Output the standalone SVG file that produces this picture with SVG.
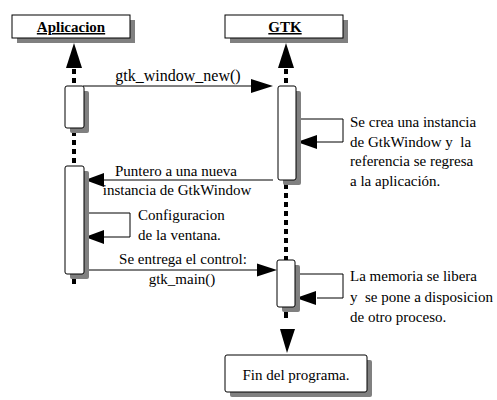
<svg xmlns="http://www.w3.org/2000/svg" width="497" height="400" viewBox="0 0 497 400">
<style>
text{font-size:15px;fill:#000}
.hd{font-weight:bold;text-decoration:underline;text-anchor:middle}
.c{text-anchor:middle}
.box{fill:#fff;stroke:#000;stroke-width:1}
.sh{fill:#808080}
.life{stroke:#000;stroke-width:4;stroke-dasharray:5,4;fill:none}
.msg{stroke:#000;stroke-width:1;fill:none}
.ah{fill:#000}
</style>
<rect width="497" height="400" fill="#fff"/>
<g id="connectors" font-family="'Liberation Serif', serif">
<line class="life" x1="74" y1="69" x2="74" y2="86"/>
<line class="life" x1="74" y1="131" x2="74" y2="166"/>
<line class="life" x1="74" y1="278" x2="74" y2="284" style="stroke-dasharray:none"/>
<line class="life" x1="286" y1="69" x2="286" y2="86"/>
<line class="life" x1="286" y1="184" x2="286" y2="260"/>
<line class="life" x1="286" y1="311" x2="286" y2="318" style="stroke-dasharray:none"/>
<polygon class="ah" points="74,43 66,68 82,68"/>
<polygon class="ah" points="286,43 278,68 294,68"/>
<polygon class="ah" points="287,353 280,329 295,329"/>
<line class="msg" x1="83" y1="86" x2="253" y2="86"/>
<polygon class="ah" points="273,86 251,79 251,93"/>
<line class="msg" x1="273" y1="180" x2="103" y2="180"/>
<polygon class="ah" points="85,180 104,173 104,187"/>
<path class="msg" d="M296,119 H343 V142 H317"/>
<polygon class="ah" points="297,142 317,135 317,149"/>
<path class="msg" d="M83,213 H130 V237 H103"/>
<polygon class="ah" points="85,237 104,230 104,244"/>
<line class="msg" x1="83" y1="270" x2="258" y2="270"/>
<polygon class="ah" points="277,270 257,263.5 257,276.5"/>
<path class="msg" d="M295,274 H343 V298 H317"/>
<polygon class="ah" points="296,298 316,291 316,305"/>
<text class="c" x="178" y="81" font-family="'Liberation Serif', serif" style="font-size:16px">gtk_window_new()</text>
<text class="c" x="176" y="176" font-family="'Liberation Serif', serif">Puntero a una nueva</text>
<text class="c" x="177" y="195" font-family="'Liberation Serif', serif">instancia de GtkWindow</text>
<text x="350" y="127" font-family="'Liberation Serif', serif">Se crea una instancia</text>
<text x="350" y="146.5" font-family="'Liberation Serif', serif">de GtkWindow y&#160; la</text>
<text x="350" y="166" font-family="'Liberation Serif', serif">referencia se regresa</text>
<text x="350" y="186" font-family="'Liberation Serif', serif">a la aplicación.</text>
<text x="138" y="220" font-family="'Liberation Serif', serif">Configuracion</text>
<text x="138" y="240" font-family="'Liberation Serif', serif">de la ventana.</text>
<text class="c" x="183" y="264" font-family="'Liberation Serif', serif">Se entrega el control:</text>
<text class="c" x="182" y="284" font-family="'Liberation Serif', serif">gtk_main()</text>
<text x="350" y="281" font-family="'Liberation Serif', serif">La memoria se libera</text>
<text x="350" y="301.5" font-family="'Liberation Serif', serif">y&#160; se pone a disposicion</text>
<text x="350" y="322" font-family="'Liberation Serif', serif">de otro proceso.</text>
</g>
<g id="aplicacion">
<rect class="sh" x="17" y="20" width="118" height="23"/>
<rect class="box" x="12" y="15" width="118" height="23"/>
<text class="hd" x="71" y="32" font-family="'Liberation Serif', serif">Aplicacion</text>
</g>
<g id="gtk">
<rect class="sh" x="230" y="20" width="118" height="23"/>
<rect class="box" x="225" y="15" width="118" height="23"/>
<text class="hd" x="285" y="32" font-family="'Liberation Serif', serif">GTK</text>
</g>
<g id="app-act1">
<rect class="sh" x="70" y="91" width="19" height="42" rx="2"/>
<rect class="box" x="65" y="86" width="19" height="42" rx="2"/>
</g>
<g id="app-act2">
<rect class="sh" x="70" y="171" width="19" height="108" rx="2"/>
<rect class="box" x="65" y="166" width="19" height="108" rx="2"/>
</g>
<g id="gtk-act1">
<rect class="sh" x="283" y="91" width="18" height="94" rx="2"/>
<rect class="box" x="278" y="86" width="18" height="94" rx="2"/>
</g>
<g id="gtk-act2">
<rect class="sh" x="282" y="265" width="18" height="47" rx="2"/>
<rect class="box" x="277" y="260" width="18" height="47" rx="2"/>
</g>
<g id="fin">
<rect class="sh" x="230" y="360" width="142" height="37" rx="2"/>
<rect class="box" x="225" y="355" width="142" height="37" rx="2"/>
<text class="c" x="296" y="380" font-family="'Liberation Serif', serif">Fin del programa.</text>
</g>
</svg>
